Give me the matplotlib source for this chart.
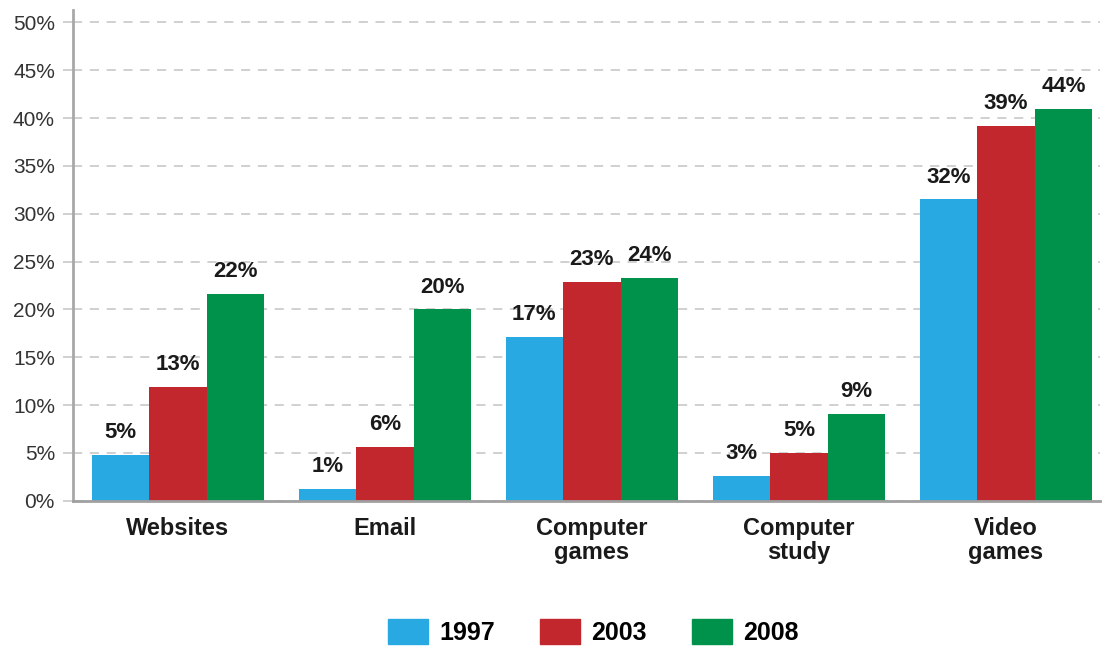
import numpy as np
import matplotlib.pyplot as plt
from matplotlib.patches import Patch

plt.rcParams['font.family'] = ['Liberation Sans', 'DejaVu Sans']

CATEGORIAS = ['Websites', 'Email', 'Computer\ngames', 'Computer\nstudy', 'Video\ngames']
ANIOS = ['1997', '2003', '2008']
COLORES = ['#29a9e1', '#c1272d', '#00924a']

# alturas de las barras y etiquetas impresas encima
ALTURA_1997 = [4.8, 1.2, 17.1, 2.6, 31.5]
ALTURA_2003 = [11.9, 5.6, 22.9, 5.0, 39.2]
ALTURA_2008 = [21.6, 20.0, 23.3, 9.1, 41.0]
ETIQUETA_1997 = ['5%', '1%', '17%', '3%', '32%']
ETIQUETA_2003 = ['13%', '6%', '23%', '5%', '39%']
ETIQUETA_2008 = ['22%', '20%', '24%', '9%', '44%']

ALTURAS = [ALTURA_1997, ALTURA_2003, ALTURA_2008]
ETIQUETAS = [ETIQUETA_1997, ETIQUETA_2003, ETIQUETA_2008]

fig = plt.figure(figsize=(11.05, 6.52), dpi=100)
ax = fig.add_axes([73 / 1105, 1 - 500.7 / 652, 1027 / 1105, 490.7 / 652])

x = np.arange(len(CATEGORIAS))
ancho = 0.278
for k in range(3):
    pos = x + (k - 1) * ancho
    ax.bar(pos, ALTURAS[k], ancho, color=COLORES[k], zorder=3)
    for xi, h, t in zip(pos, ALTURAS[k], ETIQUETAS[k]):
        ax.annotate(t, (xi, h), xytext=(0, 8.5), textcoords='offset points',
                    ha='center', va='bottom', fontsize=16, fontweight='bold',
                    color='#1a1a1a', zorder=4)

ax.set_xlim(-0.507, 4.454)
ax.set_ylim(0, 51.3)
ax.set_yticks(np.arange(0, 51, 5))
ax.set_yticklabels(['{}%'.format(v) for v in range(0, 51, 5)])
ax.yaxis.grid(True, linestyle=(0, (6, 5)), color='#c4c4c4', linewidth=1.1, zorder=0)
ax.tick_params(axis='y', length=7, color='#c4c4c4', width=1.1, pad=6,
               labelsize=15, labelcolor='#333333')
ax.set_xticks(x)
ax.set_xticklabels(CATEGORIAS, fontsize=17, fontweight='bold', color='#1a1a1a',
                   linespacing=1.05)
ax.tick_params(axis='x', length=0, pad=12)

for lado in ['top', 'right']:
    ax.spines[lado].set_visible(False)
ax.spines['left'].set_color('#a8a8a8')
ax.spines['left'].set_linewidth(2)
ax.spines['bottom'].set_color('#a0a0a0')
ax.spines['bottom'].set_linewidth(2)
ax.spines['bottom'].set_zorder(5)

manejadores = [Patch(color=c, label=a) for c, a in zip(COLORES, ANIOS)]
fig.legend(handles=manejadores, loc='center', bbox_to_anchor=(0.537, 0.031),
           ncol=3, frameon=False, handlelength=1.6, handleheight=1.16,
           handletextpad=0.45, columnspacing=1.8,
           prop={'size': 18, 'weight': 'bold'})

plt.savefig('out.png', dpi=100)
